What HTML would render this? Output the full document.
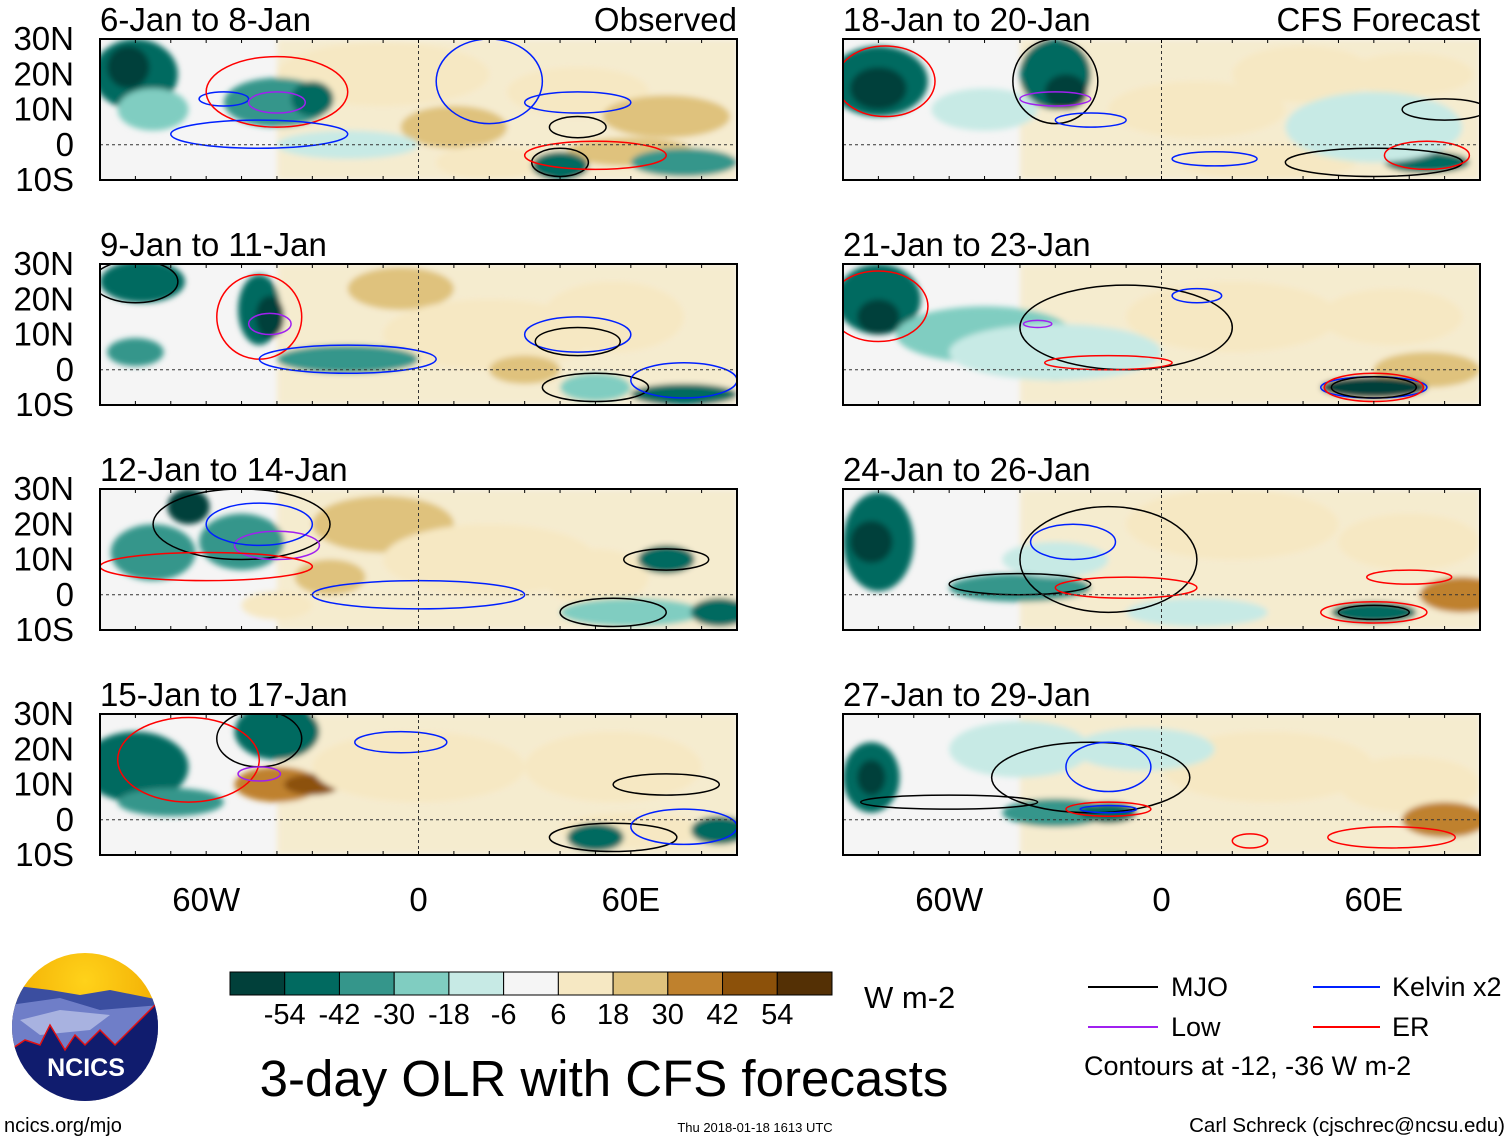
<!DOCTYPE html>
<html><head><meta charset="utf-8">
<style>
body{margin:0;background:#fff;width:1510px;height:1142px;overflow:hidden;font-family:"Liberation Sans",sans-serif;}
svg{position:absolute;left:0;top:0}
</style></head>
<body>
<svg id="fig" width="1510" height="1142">
<defs>
<filter id="soft" x="-20%" y="-20%" width="140%" height="140%"><feGaussianBlur stdDeviation="3"/></filter>
<clipPath id="c0"><rect x="100" y="39" width="637" height="141"/></clipPath>
<clipPath id="c1"><rect x="843" y="39" width="637" height="141"/></clipPath>
<clipPath id="c2"><rect x="100" y="264" width="637" height="141"/></clipPath>
<clipPath id="c3"><rect x="843" y="264" width="637" height="141"/></clipPath>
<clipPath id="c4"><rect x="100" y="489" width="637" height="141"/></clipPath>
<clipPath id="c5"><rect x="843" y="489" width="637" height="141"/></clipPath>
<clipPath id="c6"><rect x="100" y="714" width="637" height="141"/></clipPath>
<clipPath id="c7"><rect x="843" y="714" width="637" height="141"/></clipPath>
<radialGradient id="sun" cx="50%" cy="20%" r="60%"><stop offset="0" stop-color="#ffd21a"/><stop offset="1" stop-color="#f0a800"/></radialGradient>
</defs>
<g id="panels"></g>
<g id="colorbar"></g>
<g id="logo">
<clipPath id="lc"><ellipse cx="85" cy="1027" rx="73" ry="74"/></clipPath>
<g clip-path="url(#lc)">
<rect x="10" y="950" width="150" height="155" fill="url(#sun)"/>
<path d="M10,985 L50,990 L80,995 L110,990 L160,1000 L160,1105 L10,1105Z" fill="#3b4ea0"/>
<path d="M10,1005 L60,998 L100,1010 L160,1005 L160,1105 L10,1105Z" fill="#6f7ec8"/>
<path d="M20,1020 L60,1010 L110,1015 L90,1030 L40,1035Z" fill="#a8b2e0"/>
<path d="M10,1050 L25,1040 L40,1045 L50,1025 L65,1050 L75,1035 L85,1045 L100,1030 L115,1045 L160,1000 L160,1105 L10,1105Z" fill="#101c6e" stroke="#e31010" stroke-width="1.5"/>
</g>
<text x="86" y="1076" font-size="25" font-weight="bold" fill="#fff" text-anchor="middle">NCICS</text>
</g>
<text x="864" y="1008" font-size="31">W m-2</text>
<text x="604" y="1096" font-size="51" text-anchor="middle">3-day OLR with CFS forecasts</text>
<text x="4" y="1132" font-size="20">ncics.org/mjo</text>
<text x="755" y="1132" font-size="13" text-anchor="middle">Thu 2018-01-18 1613 UTC</text>
<text x="1505" y="1132" font-size="20.5" text-anchor="end">Carl Schreck (cjschrec@ncsu.edu)</text>
<g>
<line x1="1088" y1="987" x2="1158" y2="987" stroke="#000" stroke-width="2"/>
<text x="1171" y="996" font-size="27">MJO</text>
<line x1="1313" y1="987" x2="1380" y2="987" stroke="#0020ff" stroke-width="2"/>
<text x="1392" y="996" font-size="27">Kelvin x2</text>
<line x1="1088" y1="1027" x2="1158" y2="1027" stroke="#a020f0" stroke-width="2"/>
<text x="1171" y="1036" font-size="27">Low</text>
<line x1="1313" y1="1027" x2="1380" y2="1027" stroke="#ff0000" stroke-width="2"/>
<text x="1392" y="1036" font-size="27">ER</text>
<text x="1084" y="1075" font-size="27">Contours at -12, -36 W m-2</text>
</g>
</svg>
<script>
const levels=[-54,-42,-30,-18,-6,6,18,30,42,54];
const colors=["#01403a","#016a60","#35968b","#80cdc1","#c7eae5","#f5f5f5","#f6e8c3","#dfc27d","#bf812d","#8c510a","#543005"];
const titles=["6-Jan to 8-Jan","18-Jan to 20-Jan","9-Jan to 11-Jan","21-Jan to 23-Jan","12-Jan to 14-Jan","24-Jan to 26-Jan","15-Jan to 17-Jan","27-Jan to 29-Jan"];
const latTicks=["30N","20N","10N","0","10S"];
const latVals=[30,20,10,0,-10];
const lonTicks=["60W","0","60E"];
const lonVals=[-60,0,60];
// blobs: [lon, lat, rxDeg, ryDeg, olrValue]
const blobs=[
 [[-10,20,30,9,18],[10,5,15,6,30],[45,15,20,7,18],[70,8,18,6,30],[60,-2,18,4,30],[20,-5,15,5,18],[-80,20,12,10,-42],[-82,22,6,6,-54],[-40,12,15,7,-30],[-30,13,6,5,-42],[-75,10,10,6,-18],[40,-6,8,4,-42],[75,-5,15,4,-30],[-20,0,20,4,-6]],
 [[10,10,25,8,18],[40,20,20,8,18],[70,20,18,6,18],[30,-5,25,5,18],[-30,20,10,10,-42],[-27,15,6,5,-54],[-80,18,14,10,-42],[-80,16,8,6,-54],[75,-5,12,3,-42],[-50,10,15,6,-6],[60,5,25,10,-6]],
 [[-5,23,15,6,30],[20,10,30,10,18],[55,15,20,10,18],[30,0,10,4,30],[-45,17,6,10,-42],[-42,15,4,6,-54],[-78,25,12,6,-42],[-20,3,20,4,-30],[50,-5,10,4,-18],[75,-7,15,3,-42],[-80,5,8,4,-30]],
 [[20,15,30,10,18],[65,15,20,8,18],[75,0,15,5,30],[-80,20,12,10,-42],[-80,15,6,5,-54],[-50,10,25,8,-18],[-30,0,8,3,-42],[60,-5,15,3,-54],[-30,5,30,8,-6]],
 [[-10,20,20,8,30],[-25,5,10,5,30],[20,10,30,10,18],[50,5,15,8,18],[-50,15,12,8,-30],[-65,25,6,5,-54],[-75,12,12,8,-30],[70,10,8,4,-42],[60,-5,20,4,-18],[85,-5,8,4,-42],[-40,-3,10,4,18]],
 [[20,20,30,10,18],[70,15,20,8,18],[85,0,12,5,42],[-80,15,10,14,-42],[-82,15,6,6,-54],[-40,2,20,4,-30],[60,-5,12,3,-42],[-30,10,15,5,-6],[10,-5,20,4,-6]],
 [[-40,10,12,5,42],[-30,10,8,3,54],[0,15,30,10,18],[55,15,25,10,18],[60,-3,20,5,18],[-80,15,15,10,-42],[-40,25,12,8,-42],[-70,5,15,4,-30],[50,-5,8,4,-42],[85,-3,8,4,-42]],
 [[30,15,30,10,18],[70,10,20,8,18],[80,0,12,5,42],[-82,12,8,10,-42],[-82,12,4,5,-54],[-30,2,15,4,-30],[-15,2,8,3,-42],[-40,20,20,8,-6],[-5,20,20,6,-6]]
];
// contours: [lon, lat, rxDeg, ryDeg, color]
const contours=[
 [[-55,13,7,2,"#0020ff"],[-40,12,8,3,"#a020f0"],[-40,15,20,10,"#ff0000"],[-45,3,25,4,"#0020ff"],[45,5,8,3,"#000"],[40,-5,8,4,"#000"],[50,-3,20,4,"#ff0000"],[20,18,15,12,"#0020ff"],[45,12,15,3,"#0020ff"]],
 [[-78,18,14,10,"#ff0000"],[-30,18,12,12,"#000"],[-30,13,10,2,"#a020f0"],[-20,7,10,2,"#0020ff"],[60,-5,25,4,"#000"],[75,-3,12,4,"#ff0000"],[80,10,12,3,"#000"],[15,-4,12,2,"#0020ff"]],
 [[-80,25,12,6,"#000"],[-45,15,12,12,"#ff0000"],[-42,13,6,3,"#a020f0"],[-20,3,25,4,"#0020ff"],[50,-5,15,4,"#000"],[45,10,15,5,"#0020ff"],[45,8,12,4,"#000"],[75,-3,15,5,"#0020ff"]],
 [[-10,12,30,12,"#000"],[-80,18,14,10,"#ff0000"],[-35,13,4,1,"#a020f0"],[-15,2,18,2,"#ff0000"],[60,-5,15,3,"#0020ff"],[60,-5,12,3,"#000"],[60,-5,14,4,"#ff0000"],[10,21,7,2,"#0020ff"]],
 [[-50,20,25,10,"#000"],[-40,14,12,4,"#a020f0"],[-60,8,30,4,"#ff0000"],[0,0,30,4,"#0020ff"],[55,-5,15,4,"#000"],[70,10,12,3,"#000"],[-45,20,15,6,"#0020ff"]],
 [[-15,10,25,15,"#000"],[-25,15,12,5,"#0020ff"],[-40,3,20,3,"#000"],[-10,2,20,3,"#ff0000"],[60,-5,15,3,"#ff0000"],[60,-5,10,2,"#000"],[70,5,12,2,"#ff0000"]],
 [[-65,17,20,12,"#ff0000"],[-45,23,12,8,"#000"],[-5,22,13,3,"#0020ff"],[-45,13,6,2,"#a020f0"],[55,-5,18,4,"#000"],[75,-2,15,5,"#0020ff"],[70,10,15,3,"#000"]],
 [[-20,12,28,10,"#000"],[-15,15,12,7,"#0020ff"],[-15,3,12,2,"#ff0000"],[-15,3,8,1,"#0020ff"],[-60,5,25,2,"#000"],[65,-5,18,3,"#ff0000"],[25,-6,5,2,"#ff0000"]]
];
const NS="http://www.w3.org/2000/svg";
function mk(t,a,p){const e=document.createElementNS(NS,t);for(const k in a)e.setAttribute(k,a[k]);p.appendChild(e);return e;}
function colorFor(v){let i=0;while(i<levels.length&&v>levels[i])i++;return colors[i];}
const root=document.getElementById('panels');
const W=637,H=141;
for(let p=0;p<8;p++){
 const col=p%2,row=Math.floor(p/2);
 const x0=col?843:100,y0=[39,264,489,714][row];
 const X=lon=>x0+(lon+90)*W/180, Y=lat=>y0+(30-lat)*H/40;
 const g=mk('g',{},root);
 
 
 const inner=mk('g',{'clip-path':'url(#c'+p+')'},g);
 mk('rect',{x:x0,y:y0,width:W,height:H,fill:'#f5f5f5'},inner);
 const bg=mk('g',{filter:'url(#soft)'},inner);
 mk('rect',{x:X(-40),y:y0,width:X(90)-X(-40),height:H,fill:'#f6e8c3',opacity:0.75},bg);
 blobs[p].forEach(b=>{
  const e=mk('ellipse',{cx:X(b[0]),cy:Y(b[1]),rx:b[2]*W/180,ry:b[3]*H/40,fill:colorFor(b[4])},bg);
  
  
 });
 contours[p].forEach(c=>{
  const e=mk('ellipse',{cx:X(c[0]),cy:Y(c[1]),rx:c[2]*W/180,ry:c[3]*H/40,fill:'none',stroke:c[4],'stroke-width':1.5},inner);
  
  
 });
 mk('line',{x1:x0,y1:Y(0),x2:x0+W,y2:Y(0),stroke:'#333','stroke-dasharray':'3,3','stroke-width':1},inner);
 mk('line',{x1:X(0),y1:y0,x2:X(0),y2:y0+H,stroke:'#333','stroke-dasharray':'3,3','stroke-width':1},inner);
 mk('rect',{x:x0,y:y0,width:W,height:H,fill:'none',stroke:'#000','stroke-width':2},g);
 for(let l=-90;l<=90;l+=10){mk('line',{x1:X(l),y1:y0,x2:X(l),y2:y0+4,stroke:'#000'},g);mk('line',{x1:X(l),y1:y0+H,x2:X(l),y2:y0+H-4,stroke:'#000'},g);}
 const t=mk('text',{x:x0,y:y0-8,'font-size':33},g);t.textContent=titles[p];
 
 
 if(row===0){const s=mk('text',{x:x0+W,y:y0-8,'font-size':33,'text-anchor':'end'},g);s.textContent=col?'CFS Forecast':'Observed';
  
  }
 if(col===0){latVals.forEach((v,i)=>{const tt=mk('text',{x:74,y:Y(v)+11,'font-size':33,'text-anchor':'end'},g);tt.textContent=latTicks[i];
  
  });}
 if(row===3){lonVals.forEach((v,i)=>{const tt=mk('text',{x:X(v),y:911,'font-size':33,'text-anchor':'middle'},g);tt.textContent=lonTicks[i];
  
  });}
}
const cb=document.getElementById('colorbar');


const bw=602/colors.length;
colors.forEach((c,i)=>{const r=mk('rect',{x:230+i*bw,y:972,width:bw,height:23,fill:c,stroke:'#000','stroke-width':1},cb);
 
 });
levels.forEach((v,i)=>{const t=mk('text',{x:230+(i+1)*bw,y:1024,'font-size':29,'text-anchor':'middle'},cb);t.textContent=v;
 
 });
</script>
</body></html>
